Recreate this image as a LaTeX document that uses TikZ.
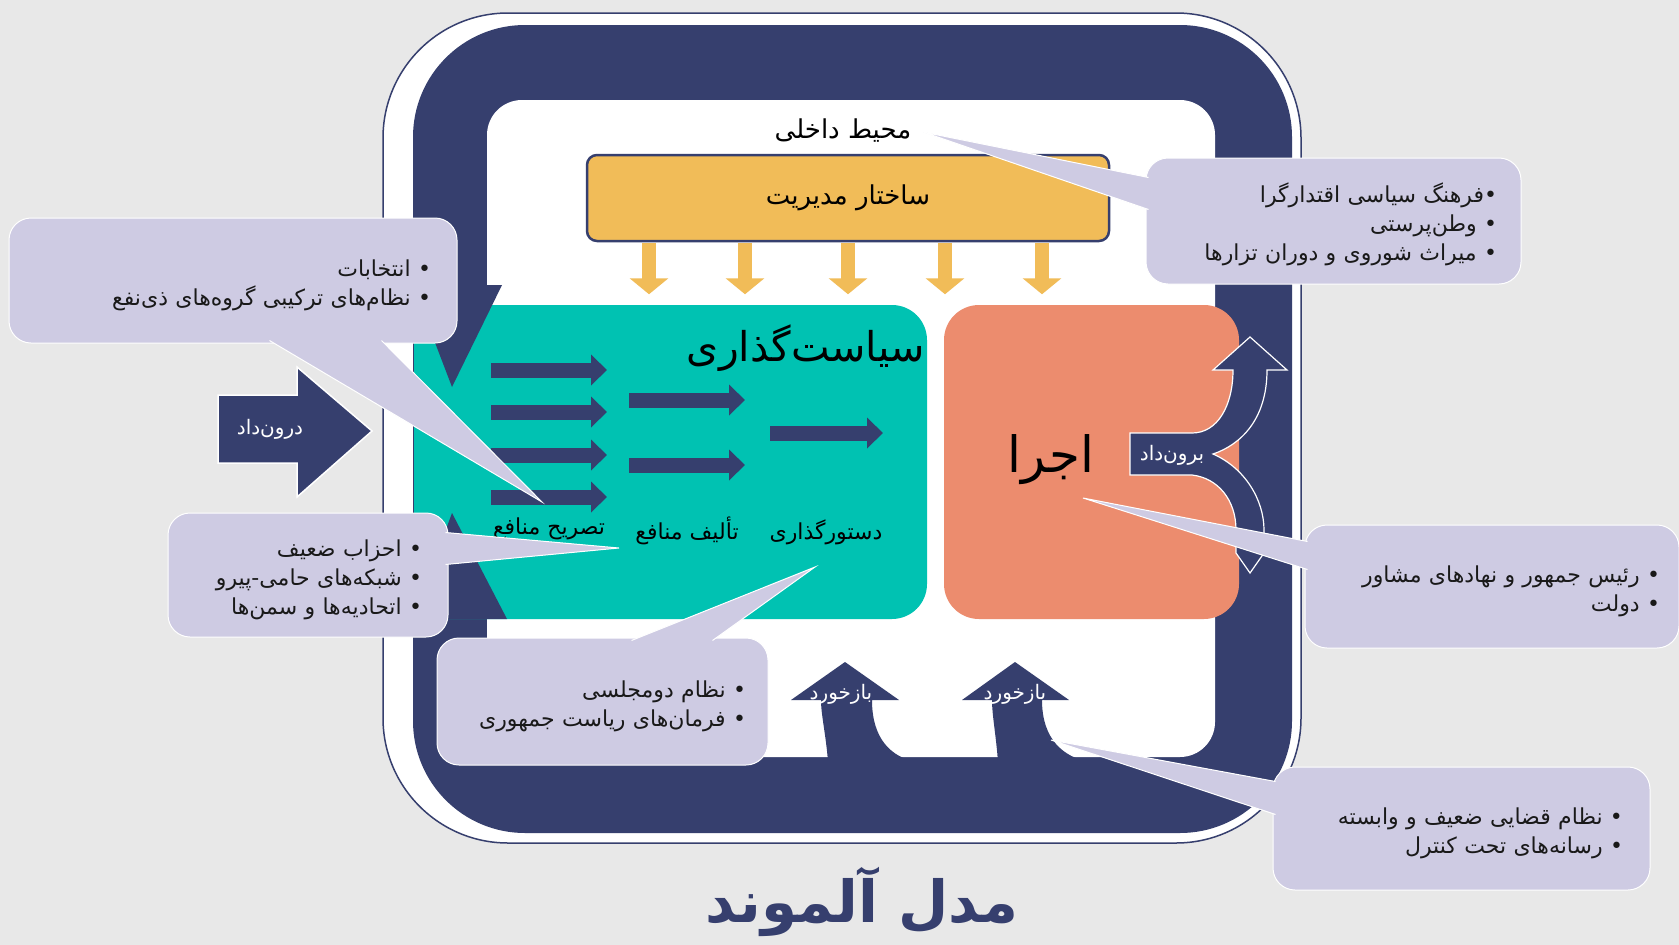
\documentclass[tikz,border=0pt]{standalone}
\usepackage{fontspec}
\usepackage{tikz}
\usetikzlibrary{arrows.meta,calc}
\TeXXeTstate=1
\newfontfamily\arabicfont[Script=Arabic]{DejaVu Sans}
\newcommand{\fatext}[1]{\beginR #1\endR}
\definecolor{almBg}{HTML}{E8E8E8}
\definecolor{almNavy}{HTML}{363F6E}
\definecolor{almTeal}{HTML}{00C2B2}
\definecolor{almOrange}{HTML}{EC8C6E}
\definecolor{almGold}{HTML}{F1BC58}
\definecolor{almLav}{HTML}{CECBE3}

\begin{document}
\begin{tikzpicture}[x=1pt,y=-1pt]
    \tikzstyle{callout}=[draw=white,line width=1pt,fill=almLav,rounded corners=22pt,align=right,inner ysep=0pt,text=black!90,font=\arabicfont\fontsize{22}{29}\selectfont,execute at begin node={\rule{0pt}{27pt}}]
    \tikzstyle{pointer}=[draw=white,line width=1pt,fill=almLav]
    \tikzstyle{inlabel}=[inner sep=0pt,font=\arabicfont\fontsize{22}{26}\selectfont]
    \tikzstyle{arrowlabel}=[inner sep=0pt,text=white,font=\arabicfont\fontsize{20}{24}\selectfont]
    \tikzstyle{goldarrow}=[almGold,line width=14pt,-{Triangle[width=38pt,length=16pt]}]
    \tikzstyle{navyarrow}=[almNavy,line width=15pt,-{Triangle[width=30pt,length=16pt]}]
    \fill[almBg] (0,0) rectangle (1679,945);
    \useasboundingbox (0,0) rectangle (1679,945);
    % frame
    \draw[almNavy,line width=1.5pt,fill=white,rounded corners=125pt] (383,13) rectangle (1301,843);
    \fill[almNavy,rounded corners=112pt] (413,25) rectangle (1292,833);
    \fill[white,rounded corners=35pt] (487,100) rectangle (1215,757);
    \node[inlabel,font=\arabicfont\fontsize{26}{30}\selectfont] (L_env) at (843,131) {\fatext{محیط داخلی}};
    \node[draw=almNavy,line width=2.5pt,fill=almGold,rounded corners=10pt,minimum width=522pt,minimum height=86pt,font=\arabicfont\fontsize{26}{30}\selectfont] (B_mgmt) at (848,198) {\fatext{ساختار مدیریت}};
    \foreach \dx in {-199,-103,0,97,194}
        \draw[goldarrow] ($(B_mgmt.south)+(\dx,1)$) -- ++(0,51);
    % boxes
    \node[fill=almTeal,rounded corners=35pt,minimum width=513pt,minimum height=314pt,inner sep=0pt] (B_policy) at (670.5,462) {};
    \node[fill=almOrange,rounded corners=35pt,minimum width=295pt,minimum height=314pt,inner sep=0pt] (B_exec) at (1091.5,462) {};
    \fill[almNavy] (413,285) -- (502,285) -- (452,387) -- cycle;
    \fill[almNavy] (413,619) -- (452,513) -- (507,619) -- cycle;
    \node[inlabel,font=\arabicfont\fontsize{41}{45}\selectfont] (L_policy) at (806,348) {\fatext{سیاست‌گذاری}};
    \node[inlabel,font=\arabicfont\fontsize{50}{54}\selectfont] (L_exec) at (1051,460) {\fatext{اجرا}};
    \foreach \y in {370,412,455,497}
        \draw[navyarrow] (491,\y) -- (607,\y);
    \foreach \y in {400,465}
        \draw[navyarrow] (629,\y) -- (745,\y);
    \draw[navyarrow] (770,433) -- (883,433);
    \node[inlabel] (L_art) at (549,529) {\fatext{تصریح منافع}};
    \node[inlabel] (L_agg) at (687,531) {\fatext{تألیف منافع}};
    \node[inlabel] (L_rule) at (826,532) {\fatext{دستورگذاری}};
    % input, output, feedback
    \filldraw[fill=almNavy,draw=white,line width=1.5pt] (218,395) -- (297,395) -- (297,367) -- (372,431) -- (297,497) -- (297,463) -- (218,463) -- cycle;
    \node[arrowlabel] (L_in) at (270,429) {\fatext{درون‌داد}};
    \filldraw[fill=almNavy,draw=white,line width=1.2pt] (1130,433) -- (1192,433) .. controls (1218,433) and (1233,405) .. (1233,370) -- (1213,370) -- (1250,337) -- (1287,370) -- (1267,370) .. controls (1267,420) and (1240,445) .. (1213,454) .. controls (1245,468) and (1264,500) .. (1264,530) -- (1264,553) -- (1250,573) -- (1236,553) -- (1236,530) .. controls (1236,500) and (1218,478) .. (1192,475) -- (1130,475) -- cycle;
    \node[arrowlabel] (L_out) at (1172,455) {\fatext{برون‌داد}};
    \fill[almNavy] (828,762) .. controls (826,735) and (821,715) .. (821,700) -- (791,700) -- (845,662) -- (899,700) -- (872,700) .. controls (872,740) and (892,757) .. (916,762) -- cycle;
    \fill[almNavy] (998,762) .. controls (996,735) and (992,715) .. (992,700) -- (962,700) -- (1015,662) -- (1069,700) -- (1042,700) .. controls (1042,740) and (1064,757) .. (1089,762) -- cycle;
    \node[arrowlabel] (L_fb1) at (841,694) {\fatext{بازخورد}};
    \node[arrowlabel] (L_fb2) at (1015,694) {\fatext{بازخورد}};
    % callouts
    \coordinate (T_1) at (542,502);
    \coordinate (T_2) at (923,132);
    \coordinate (T_3) at (619,548);
    \coordinate (T_4) at (815,567);
    \coordinate (T_5) at (1083,498);
    \coordinate (T_6) at (1051,740);
    \node[callout,text width=396pt,inner xsep=26pt,minimum height=125pt] (C_1) at (233,280.5) {\fatext{• انتخابات}\\\fatext{• نظام‌های ترکیبی گروه‌های ذی‌نفع}};
    \draw[pointer] ($(C_1.south west)+(261,-3)$) -- (T_1) -- ($(C_1.south west)+(373,-3)$);
    \node[callout,text width=327pt,inner xsep=24pt,minimum height=126pt] (C_2) at (1333.5,221) {\fatext{•فرهنگ سیاسی اقتدارگرا}\\\fatext{• وطن‌پرستی}\\\fatext{• میراث شوروی و دوران تزارها}};
    \draw[pointer] ($(C_2.north west)+(3,20)$) -- (T_2) -- ($(C_2.north west)+(3,52)$);
    \node[callout,text width=228pt,inner xsep=26pt,minimum height=124pt] (C_3) at (308,575) {\fatext{• احزاب ضعیف}\\\fatext{• شبکه‌های حامی-پیرو}\\\fatext{• اتحادیه‌ها و سمن‌ها}};
    \draw[pointer] ($(C_3.north east)+(-3,20)$) -- (T_3) -- ($(C_3.north east)+(-3,52)$);
    \node[callout,text width=287pt,inner xsep=22pt,minimum height=127pt] (C_4) at (602.5,701.5) {\fatext{• نظام دومجلسی}\\\fatext{• فرمان‌های ریاست جمهوری}};
    \draw[pointer] ($(C_4.north west)+(195,3)$) -- (T_4) -- ($(C_4.north west)+(276,3)$);
    \node[callout,text width=336pt,inner xsep=19pt,minimum height=123pt] (C_5) at (1492,586.5) {\fatext{• رئیس جمهور و نهادهای مشاور}\\\fatext{• دولت}};
    \draw[pointer] ($(C_5.north west)+(3,17)$) -- (T_5) -- ($(C_5.north west)+(3,45)$);
    \node[callout,text width=323pt,inner xsep=27pt,minimum height=123pt] (C_6) at (1461.5,828.5) {\fatext{• نظام قضایی ضعیف و وابسته}\\\fatext{• رسانه‌های تحت کنترل}};
    \draw[pointer] ($(C_6.north west)+(3,15)$) -- (T_6) -- ($(C_6.north west)+(3,48)$);
    % title
    \node[inner sep=0pt,text=almNavy,font=\arabicfont\bfseries\fontsize{58}{66}\selectfont] (L_title) at (862,902) {\fatext{مدل آلموند}};
\end{tikzpicture}
\end{document}
